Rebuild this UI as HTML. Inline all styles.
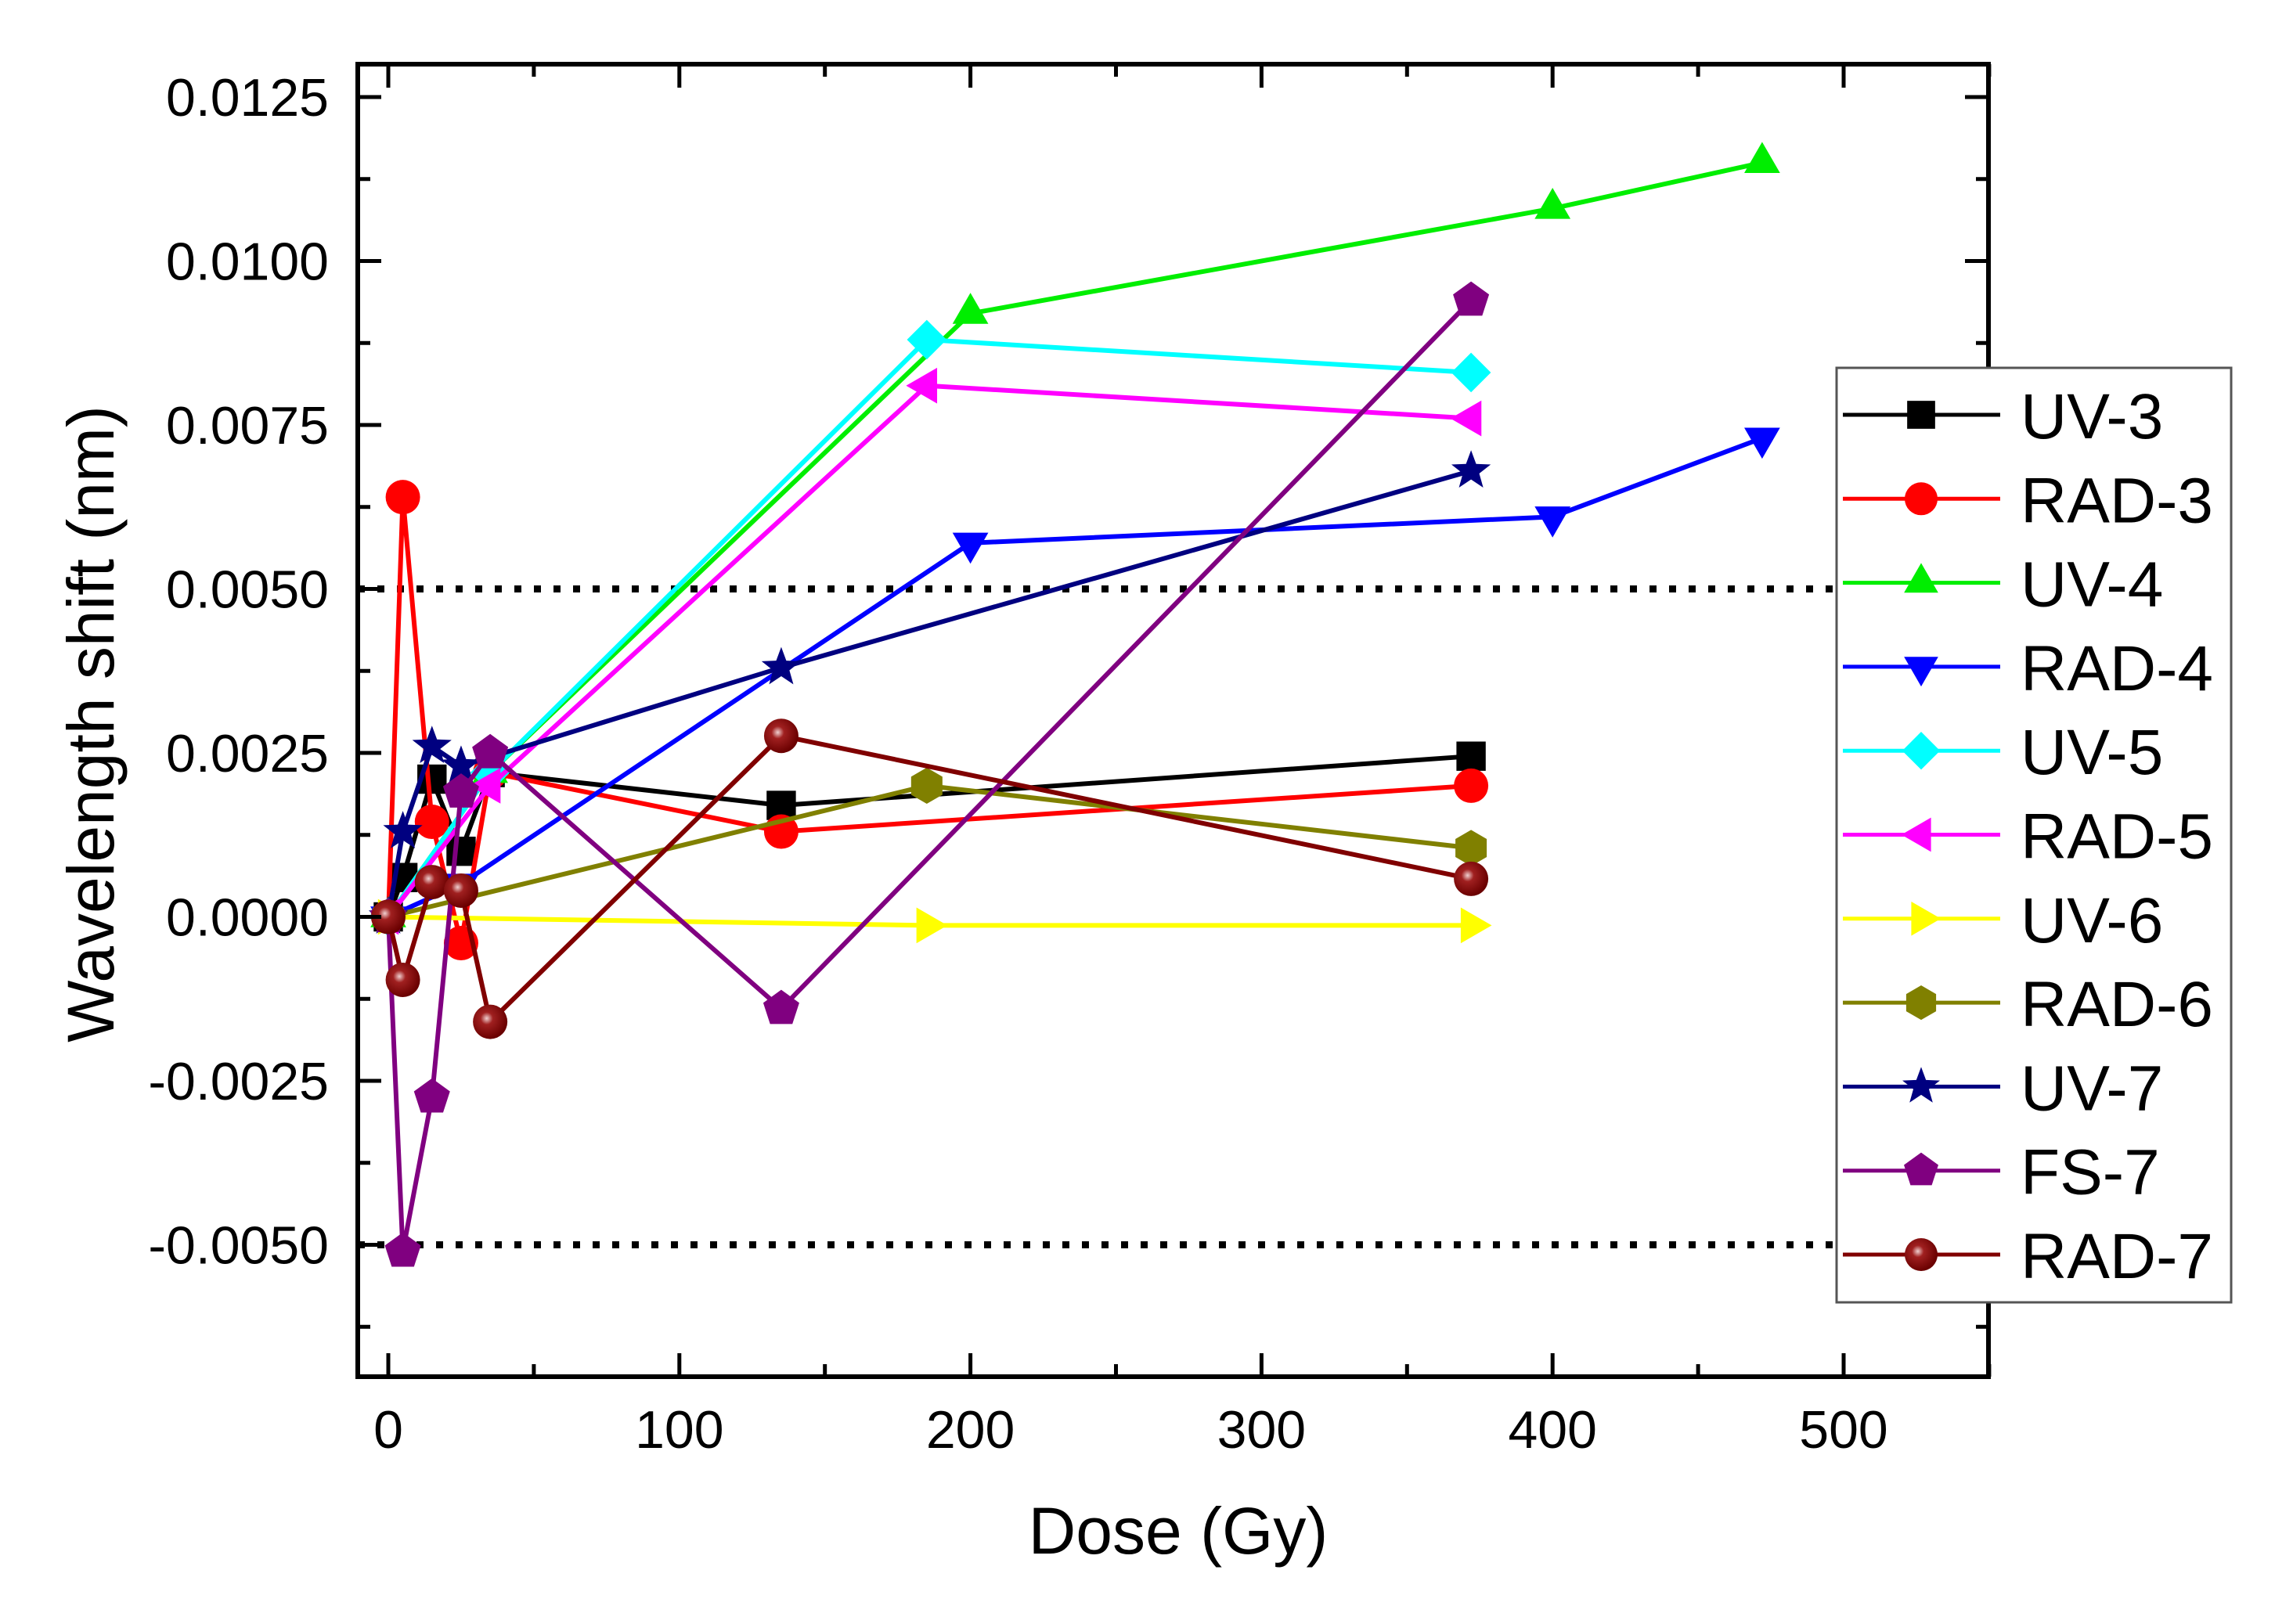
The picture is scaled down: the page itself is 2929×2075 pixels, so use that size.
<!DOCTYPE html>
<html><head><meta charset="utf-8"><style>
html,body{margin:0;padding:0;background:#fff;}
svg{display:block;font-family:"Liberation Sans",Arial,sans-serif;}
</style></head><body>
<svg id="chart" width="2929" height="2075" viewBox="0 0 2929 2075" xmlns="http://www.w3.org/2000/svg">
<defs>
<radialGradient id="sph" cx="0.4" cy="0.4" r="0.6"><stop offset="0" stop-color="#f0d0d0"/><stop offset="0.3" stop-color="#a02020"/><stop offset="1" stop-color="#6a0000"/></radialGradient>
</defs>
<g id="grid"></g>
<g id="series"></g>
<g id="axes"></g>
<g id="legend"></g>
</svg>
<script>
const xTicks=[0,100,200,300,400,500];
const yTicks=[-0.005,-0.0025,0,0.0025,0.005,0.0075,0.01,0.0125];
const yTickLabels=["-0.0050","-0.0025","0.0000","0.0025","0.0050","0.0075","0.0100","0.0125"];
const refLines=[0.005,-0.005];
const seriesNames=["UV-3","RAD-3","UV-4","RAD-4","UV-5","RAD-5","UV-6","RAD-6","UV-7","FS-7","RAD-7"];
const seriesColors=["#000000","#ff0000","#00ee00","#0000ff","#00ffff","#ff00ff","#ffff00","#808000","#000080","#800080","#800000"];
const seriesMarkers=["square","circle","triup","tridown","diamond","trileft","triright","hexagon","star","pentagon","sphere"];
const dUV3=[0,5,15,25,35,135,372],  vUV3=[0,0.0006,0.0021,0.001,0.0022,0.0017,0.00245];
const dRAD3=[0,5,15,25,35,135,372], vRAD3=[0,0.0064,0.00145,-0.0004,0.0022,0.0013,0.0020];
const dUV4=[0,35,200,400,472],      vUV4=[0,0.0022,0.0092,0.0108,0.0115];
const dRAD4=[0,25,200,400,472],     vRAD4=[0,0.0005,0.0057,0.0061,0.0073];
const dUV5=[0,35,185,372],          vUV5=[0,0.0022,0.0088,0.0083];
const dRAD5=[0,35,185,372],         vRAD5=[0,0.002,0.0081,0.0076];
const dUV6=[0,185,372],             vUV6=[0,-0.00013,-0.00013];
const dRAD6=[0,185,372],            vRAD6=[0,0.002,0.00105];
const dUV7=[0,5,15,25,135,372],     vUV7=[0,0.0013,0.0026,0.0023,0.0038,0.0068];
const dFS7=[0,5,15,25,35,135,372],  vFS7=[0,-0.0051,-0.00275,0.0019,0.0025,-0.0014,0.0094];
const dRAD7=[0,5,15,25,35,135,372], vRAD7=[0,-0.00096,0.00053,0.0004,-0.0016,0.00276,0.00058];
const seriesDoses=[dUV3,dRAD3,dUV4,dRAD4,dUV5,dRAD5,dUV6,dRAD6,dUV7,dFS7,dRAD7];
const seriesValues=[vUV3,vRAD3,vUV4,vRAD4,vUV5,vRAD5,vUV6,vRAD6,vUV7,vFS7,vRAD7];

const NS="http://www.w3.org/2000/svg";
const L=457,R=2540,T=82,B=1759;
const X=d=>496+d*3.718;
const Y=v=>124+(0.0125-v)/0.0025*209.5;
function mk(tag,attrs,parent){const e=document.createElementNS(NS,tag);for(const k in attrs)e.setAttribute(k,attrs[k]);parent.appendChild(e);return e;}
const gGrid=document.getElementById('grid'),gS=document.getElementById('series'),gA=document.getElementById('axes'),gL=document.getElementById('legend');

refLines.forEach(v=>{const l=mk('line',{x1:L,x2:R,y1:Y(v),y2:Y(v),stroke:'#000','stroke-width':9,'stroke-dasharray':'9 16'},gGrid);

});

function poly(n,r,rot){let p=[];for(let i=0;i<n;i++){const a=rot+i*2*Math.PI/n;p.push([Math.cos(a)*r,Math.sin(a)*r]);}return p;}
function marker(type,cx,cy,col,parent,s){
 s=s||22;let e;const pts=a=>a.map(p=>(cx+p[0])+','+(cy+p[1])).join(' ');
 switch(type){
 case 'square':e=mk('rect',{x:cx-s*0.85,y:cy-s*0.85,width:s*1.7,height:s*1.7,fill:col},parent);break;
 case 'circle':e=mk('circle',{cx,cy,r:s,fill:col},parent);break;
 case 'sphere':e=mk('circle',{cx,cy,r:s,fill:'url(#sph)'},parent);break;
 case 'triup':e=mk('polygon',{points:pts(poly(3,s*1.2,-Math.PI/2)),fill:col},parent);break;
 case 'tridown':e=mk('polygon',{points:pts(poly(3,s*1.2,Math.PI/2)),fill:col},parent);break;
 case 'trileft':e=mk('polygon',{points:pts(poly(3,s*1.2,Math.PI)),fill:col},parent);break;
 case 'triright':e=mk('polygon',{points:pts(poly(3,s*1.2,0)),fill:col},parent);break;
 case 'diamond':e=mk('polygon',{points:pts(poly(4,s*1.15,0)),fill:col},parent);break;
 case 'hexagon':e=mk('polygon',{points:pts(poly(6,s*1.05,Math.PI/2)),fill:col},parent);break;
 case 'pentagon':e=mk('polygon',{points:pts(poly(5,s*1.1,-Math.PI/2)),fill:col},parent);break;
 case 'star':{let p=[];for(let i=0;i<10;i++){const a=-Math.PI/2+i*Math.PI/5;const r=i%2?s*0.5:s*1.2;p.push([Math.cos(a)*r,Math.sin(a)*r]);}e=mk('polygon',{points:pts(p),fill:col},parent);break;}
 }
 return e;
}

seriesNames.forEach((name,i)=>{
 const g=mk('g',{},gS);
 
 
 const ds=seriesDoses[i],vs=seriesValues[i];
 const pl=mk('polyline',{points:ds.map((d,j)=>X(d)+','+Y(vs[j])).join(' '),fill:'none',stroke:seriesColors[i],'stroke-width':6,'stroke-linejoin':'round'},g);
 
 
 ds.forEach((d,j)=>{const m=marker(seriesMarkers[i],X(d),Y(vs[j]),seriesColors[i],g);
  
  });
});

const fr=mk('rect',{x:L,y:T,width:R-L,height:B-T,fill:'none',stroke:'#000','stroke-width':6},gA);


for(let d=0;d<=550;d+=50){const maj=d%100===0,len=maj?30:16;
 [[B,-1],[T,1]].forEach(([yy,dir])=>{const t=mk('line',{x1:X(d),x2:X(d),y1:yy,y2:yy+dir*len,stroke:'#000','stroke-width':5},gA);
 
 });}
xTicks.forEach(d=>{const t=mk('text',{x:X(d),y:1850,'font-size':68,'text-anchor':'middle',fill:'#000'},gA);t.textContent=String(d);
 
 });
for(let k=-5;k<=13;k++){const v=k*0.00125;const yy=Y(v);if(yy<T+2||yy>B-2)continue;const maj=k%2===0,len=maj?30:16;
 [[L,1],[R,-1]].forEach(([xx,dir])=>{const t=mk('line',{x1:xx,x2:xx+dir*len,y1:yy,y2:yy,stroke:'#000','stroke-width':5},gA);
 
 });}
yTicks.forEach((v,i)=>{const t=mk('text',{x:420,y:Y(v)+24,'font-size':68,'text-anchor':'end',fill:'#000'},gA);t.textContent=yTickLabels[i];
 
 });
const xt=mk('text',{x:1505,y:1985,'font-size':84,'text-anchor':'middle',fill:'#000'},gA);xt.textContent='Dose (Gy)';


const yt=mk('text',{x:0,y:0,'font-size':84,'text-anchor':'middle',fill:'#000',transform:'translate(145,925) rotate(-90)'},gA);yt.textContent='Wavelength shift (nm)';



const lb=mk('rect',{x:2346,y:470,width:504,height:1194,fill:'#fff',stroke:'#555','stroke-width':3},gL);


seriesNames.forEach((name,i)=>{const yy=530+i*107.3;
 const g=mk('g',{},gL);
 
 
 mk('line',{x1:2354,x2:2555,y1:yy,y2:yy,stroke:seriesColors[i],'stroke-width':5},g);
 marker(seriesMarkers[i],2454,yy,seriesColors[i],g,21);
 const t=mk('text',{x:2581,y:yy+30,'font-size':82,fill:'#000'},g);t.textContent=name;
});
</script>
</body></html>
